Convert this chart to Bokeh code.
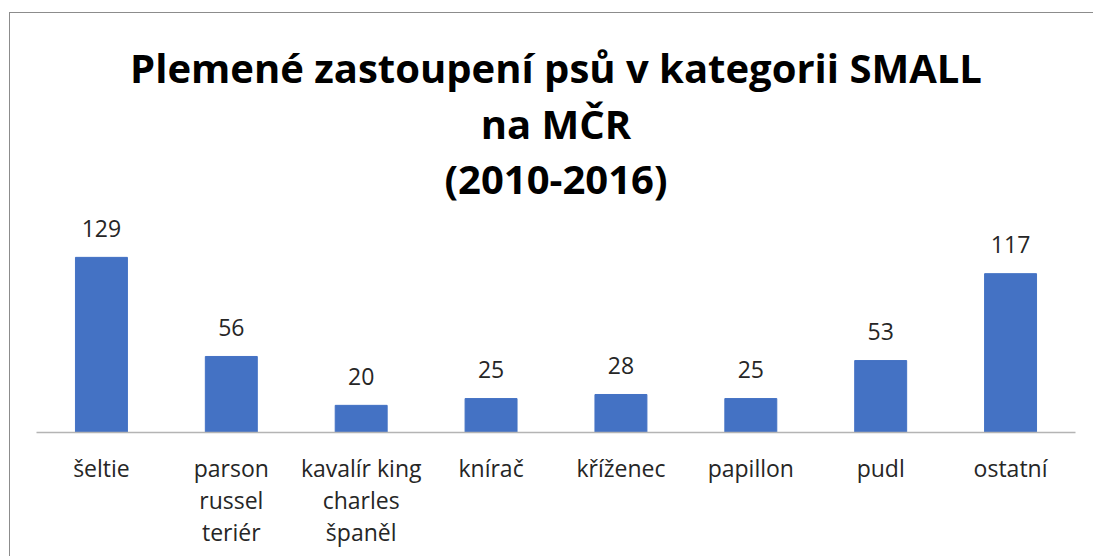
import numpy as np
from bokeh.plotting import figure
from bokeh.models import (ColumnDataSource, Range1d, Title, LinearAxis, FixedTicker,
                          CustomJSTickFormatter)
from bokeh.core.properties import value
from bokeh.embed import file_html
from bokeh.resources import INLINE

categories = ["šeltie", "parson russel teriér", "kavalír king charles španěl", "knírač",
              "kříženec", "papillon", "pudl", "ostatní"]
label_line1 = ["šeltie", "parson", "kavalír king", "knírač", "kříženec", "papillon", "pudl", "ostatní"]
label_line2 = ["", "russel", "charles", "", "", "", "", ""]
label_line3 = ["", "teriér", "španěl", "", "", "", "", ""]
counts = [129, 56, 20, 25, 28, 25, 53, 117]
title_lines = ["Plemené zastoupení psů v kategorii SMALL", "na MČR", "(2010-2016)"]

FONT = "Open Sans"
BAR = "#4472C4"
TXT = "#262626"

xpos = np.arange(len(categories)) + 0.5
src = ColumnDataSource(dict(x=xpos, cat=categories, n=counts, lbl=[str(v) for v in counts]))

p = figure(x_range=Range1d(0, len(categories)), y_range=Range1d(0, 165),
           width=1084, height=544, x_axis_type=None,
           output_backend="svg", toolbar_location=None, tools="", title=title_lines[0],
           min_border_left=26, min_border_right=19, min_border_top=195, min_border_bottom=125,
           styles={"margin-top": "12px", "margin-left": "9px",
                   "border-top": "1px solid #8c8c8c", "border-left": "1px solid #8c8c8c"})

def style_title(t, standoff):
    t.align = "center"
    t.text_font = FONT
    t.text_font_size = "40px"
    t.text_font_style = "bold"
    t.text_color = "#000000"
    t.standoff = standoff

style_title(p.title, 5)
for line, so in [(title_lines[2], 5), (title_lines[1], -8)]:
    t = Title(text=line)
    style_title(t, so)
    p.add_layout(t, "above")

p.vbar(x="x", top="n", width=0.4, source=src, fill_color=BAR, line_color=BAR)
p.text(x="x", y="n", text="lbl", source=src, text_align="center",
       text_baseline="alphabetic", y_offset=-29, text_font=value(FONT),
       text_font_size="23px", text_color=TXT)

p.yaxis.visible = False
p.grid.visible = False
p.outline_line_color = None
p.background_fill_color = "white"
p.border_fill_color = "white"

def make_axis(labels, standoff, line):
    ax = LinearAxis(ticker=FixedTicker(ticks=list(xpos)),
                    formatter=CustomJSTickFormatter(args=dict(labels=labels),
                                                    code="return labels[Math.round(tick - 0.5)];"))
    ax.axis_line_color = "#b4b4b4" if line else None
    ax.axis_line_width = 1.5
    ax.major_tick_line_color = None
    ax.minor_tick_line_color = None
    ax.major_tick_in = 0
    ax.major_tick_out = 0
    ax.minor_tick_in = 0
    ax.minor_tick_out = 0
    ax.major_label_standoff = standoff
    ax.major_label_text_font = FONT
    ax.major_label_text_font_size = "23px"
    ax.major_label_text_color = TXT
    p.add_layout(ax, "below")

make_axis(label_line1, 19, True)
make_axis(label_line2, -3, False)
make_axis(label_line3, -3, False)

open("out.html", "w").write(file_html(p, INLINE))
